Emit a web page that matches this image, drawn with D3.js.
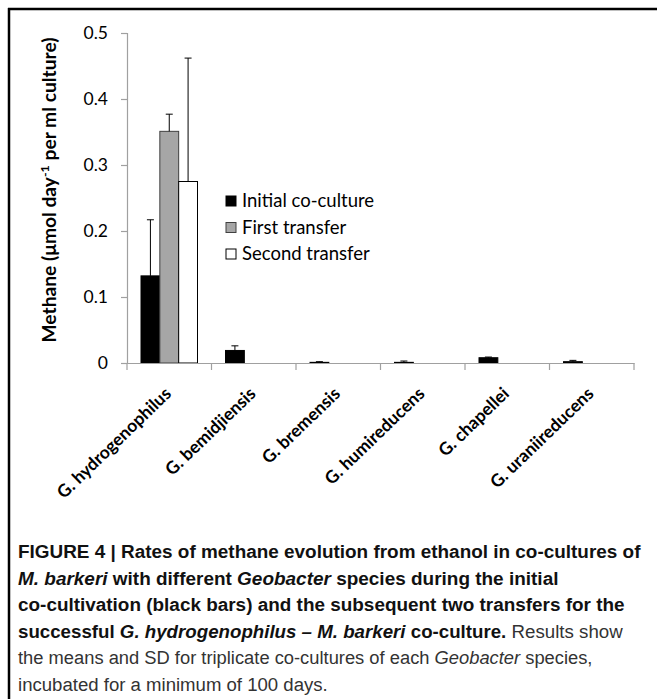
<!DOCTYPE html>
<html>
<head>
<meta charset="utf-8">
<script src="https://cdn.jsdelivr.net/npm/d3@7"></script>
<style>
  body { margin: 0; background: #fff; }
  svg { display: block; }
</style>
</head>
<body>
<div id="chart"></div>
<script>
// Methane rates per Geobacter species (umol/day per ml culture), mean and SD
const species = ["G. hydrogenophilus", "G. bemidjiensis", "G. bremensis", "G. humireducens", "G. chapellei", "G. uraniireducens"];
const seriesNames = ["Initial co-culture", "First transfer", "Second transfer"];
const initialMean = [0.132, 0.019, 0.001, 0.001, 0.008, 0.002];
const initialSD = [0.085, 0.007, 0.001, 0.002, 0.001, 0.002];
const firstMean = [0.351, 0, 0, 0, 0, 0];
const firstSD = [0.026, 0, 0, 0, 0, 0];
const secondMean = [0.275, 0, 0, 0, 0, 0];
const secondSD = [0.187, 0, 0, 0, 0, 0];
const yTicks = [0, 0.1, 0.2, 0.3, 0.4, 0.5];

const fills = ["#000000", "#a6a6a6", "#ffffff"];
const strokes = ["#000000", "#404040", "#000000"];

const width = 657, height = 699;
const svg = d3.select("#chart").append("svg")
    .attr("width", width)
    .attr("height", height);

// frame: top and left rules only
svg.append("line").attr("x1", 8).attr("x2", width).attr("y1", 9).attr("y2", 9)
    .attr("stroke", "#000").attr("stroke-width", 2.5);
svg.append("line").attr("x1", 9).attr("x2", 9).attr("y1", 8).attr("y2", height)
    .attr("stroke", "#000").attr("stroke-width", 2.5);

const x = d3.scaleBand().domain(species).range([127, 634]);
const x1 = d3.scaleBand().domain(seriesNames).range([14, x.bandwidth() - 14]);
const y = d3.scaleLinear().domain([0, 0.5]).range([363, 33]);

const rows = species.map((s, i) => ({
    species: s,
    values: [
        { name: seriesNames[0], mean: initialMean[i], sd: initialSD[i], k: 0 },
        { name: seriesNames[1], mean: firstMean[i], sd: firstSD[i], k: 1 },
        { name: seriesNames[2], mean: secondMean[i], sd: secondSD[i], k: 2 }
    ]
}));

const axisColor = "#a0a0a0";
const chartFont = "Lato, 'Open Sans', sans-serif";

// y axis
const yAxis = svg.append("g")
    .attr("transform", "translate(127,0)")
    .call(d3.axisLeft(y).tickValues(yTicks).tickSize(6).tickPadding(13)
        .tickFormat(d => d === 0 ? "0" : d3.format(".1f")(d)));
yAxis.select(".domain").attr("stroke", axisColor).attr("stroke-width", 1.2);
yAxis.selectAll(".tick line").attr("stroke", axisColor).attr("stroke-width", 1.2);
yAxis.selectAll("text")
    .attr("font-family", chartFont)
    .attr("font-size", 17.5)
    .attr("fill", "#000");

// bars and error bars
const groups = svg.append("g").selectAll("g")
    .data(rows)
    .join("g")
    .attr("transform", d => `translate(${x(d.species)},0)`);

const visible = d => d.values.filter(v => v.mean > 0);

groups.selectAll("rect")
    .data(visible)
    .join("rect")
    .attr("x", d => x1(d.name))
    .attr("y", d => y(d.mean))
    .attr("width", x1.bandwidth())
    .attr("height", d => y(0) - y(d.mean))
    .attr("fill", d => fills[d.k])
    .attr("stroke", d => strokes[d.k])
    .attr("stroke-width", 1);

groups.selectAll("path.err")
    .data(visible)
    .join("path")
    .attr("class", "err")
    .attr("fill", "none")
    .attr("stroke", "#000")
    .attr("stroke-width", 1)
    .attr("d", d => {
        const cx = x1(d.name) + x1.bandwidth() / 2;
        const t = y(d.mean + d.sd);
        return `M${cx},${y(d.mean)}V${t}M${cx - 3.5},${t}H${cx + 3.5}`;
    });

// x axis
const xAxis = svg.append("g")
    .attr("transform", `translate(0,${y(0)})`)
    .call(d3.axisBottom(x).tickSize(0).tickFormat(""));
xAxis.select(".domain").attr("stroke", axisColor).attr("stroke-width", 1.2);
xAxis.selectAll(".tick").remove();
svg.append("g").selectAll("line")
    .data(d3.range(species.length + 1))
    .join("line")
    .attr("x1", i => x.range()[0] + i * x.step())
    .attr("x2", i => x.range()[0] + i * x.step())
    .attr("y1", y(0))
    .attr("y2", y(0) + 7)
    .attr("stroke", axisColor)
    .attr("stroke-width", 1.2);

// rotated category labels
svg.append("g").selectAll("text")
    .data(species)
    .join("text")
    .attr("transform", d => `translate(${x(d) + x.bandwidth() / 2 + 3},${y(0) + 32}) rotate(-44)`)
    .attr("text-anchor", "end")
    .attr("font-family", chartFont)
    .attr("font-weight", "bold")
    .attr("font-size", 17.5)
    .text(d => d);

// y axis title
const yTitle = svg.append("text")
    .attr("transform", `translate(56,190) rotate(-90)`)
    .attr("text-anchor", "middle")
    .attr("font-family", chartFont)
    .attr("font-weight", "bold")
    .attr("font-size", 18.5)
    .attr("textLength", 305)
    .attr("lengthAdjust", "spacingAndGlyphs");
yTitle.append("tspan").text("Methane (\u03bcmol day");
yTitle.append("tspan").attr("dy", -7).attr("font-size", 12).text("-1");
yTitle.append("tspan").attr("dy", 7).text(" per ml culture)");

// legend
const legend = svg.append("g").attr("transform", "translate(226,0)")
    .selectAll("g")
    .data(seriesNames)
    .join("g")
    .attr("transform", (d, i) => `translate(0,${201 + i * 26.5})`);
legend.append("rect")
    .attr("x", 0).attr("y", -5)
    .attr("width", 10).attr("height", 10)
    .attr("fill", (d, i) => fills[i])
    .attr("stroke", (d, i) => strokes[i])
    .attr("stroke-width", 1);
legend.append("text")
    .attr("x", 16).attr("y", 0)
    .attr("dy", "0.35em")
    .attr("font-family", chartFont)
    .attr("font-size", 18.5)
    .text(d => d);

// caption: each line squeezed horizontally to the width it has in the figure
const captionLines = [
    { w: 623, parts: [["FIGURE 4 | Rates of methane evolution from ethanol in co-cultures of", "bold", "normal"]] },
    { w: 541, parts: [["M. barkeri", "bold", "italic"], [" with different ", "bold", "normal"], ["Geobacter", "bold", "italic"], [" species during the initial", "bold", "normal"]] },
    { w: 607, parts: [["co-cultivation (black bars) and the subsequent two transfers for the", "bold", "normal"]] },
    { w: 605, parts: [["successful ", "bold", "normal"], ["G. hydrogenophilus \u2013 M. barkeri", "bold", "italic"], [" co-culture.", "bold", "normal"], [" Results show", "normal", "normal"]] },
    { w: 575, parts: [["the means and SD for triplicate co-cultures of each ", "normal", "normal"], ["Geobacter", "normal", "italic"], [" species,", "normal", "normal"]] },
    { w: 310, parts: [["incubated for a minimum of 100 days.", "normal", "normal"]] }
];

const caption = svg.append("g").selectAll("text")
    .data(captionLines)
    .join("text")
    .attr("x", 0)
    .attr("y", 0)
    .attr("font-family", "'Liberation Sans', Arial, sans-serif")
    .attr("font-size", 19);

caption.selectAll("tspan")
    .data(d => d.parts)
    .join("tspan")
    .attr("font-weight", d => d[1])
    .attr("font-style", d => d[2])
    .attr("fill", d => d[1] === "bold" ? "#111" : "#333")
    .text(d => d[0]);

caption.attr("transform", function(d, i) {
    const len = this.getComputedTextLength();
    return `translate(18,${558 + i * 26.6}) scale(${d.w / len},1)`;
});
</script>
</body>
</html>
